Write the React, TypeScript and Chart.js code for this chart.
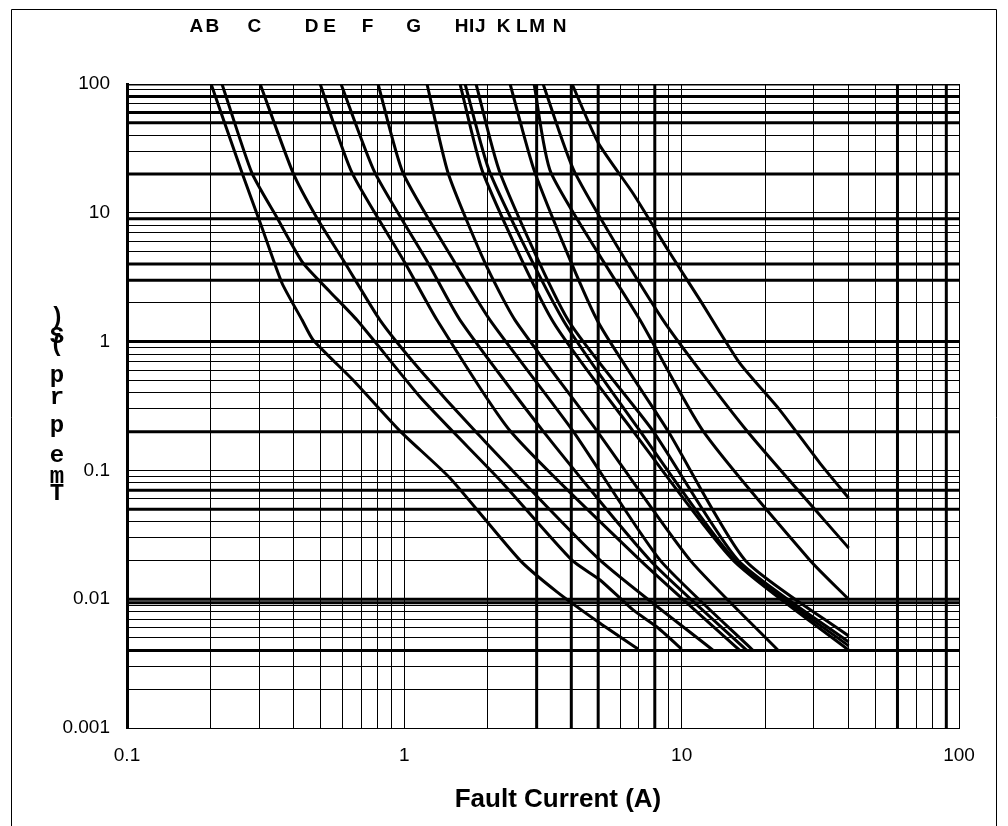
import React, { useEffect, useRef } from 'react';
import { Chart, registerables } from 'chart.js';

Chart.register(...registerables);

// ---- data ----
const curveLabels = ['A', 'B', 'C', 'D', 'E', 'F', 'G', 'H', 'I', 'J', 'K', 'L', 'M', 'N'];
const labelCurrents = [0.178, 0.203, 0.288, 0.463, 0.538, 0.737, 1.08, 1.61, 1.75, 1.88, 2.28, 2.65, 3.01, 3.63];

// [current (A), time (s)]
const curveA = [[0.201, 100], [0.26, 20.4], [0.307, 7.62], [0.362, 2.85], [0.428, 1.47], [0.469, 1.03], [0.653, 0.503], [0.965, 0.202], [1.46, 0.0873], [2.61, 0.0201], [3.55, 0.0114], [5.08, 0.0065], [6.96, 0.0041]];
const curveB = [[0.22, 100], [0.282, 20.4], [0.348, 9.11], [0.431, 4.08], [0.54, 2.43], [0.675, 1.47], [1.14, 0.371], [1.49, 0.202], [2.21, 0.0842], [4.02, 0.0201], [5.08, 0.0141], [6.68, 0.00825], [8.15, 0.00608], [10.0, 0.0041]];
const curveC = [[0.302, 100], [0.397, 20.4], [0.484, 9.11], [0.611, 4.08], [0.817, 1.47], [1.14, 0.602], [1.8, 0.202], [5.08, 0.0201], [13.0, 0.004]];
const curveD = [[0.497, 100], [0.648, 20.4], [1.006, 4.08], [1.312, 1.47], [2.41, 0.202], [7.08, 0.0201], [16.2, 0.004]];
const curveE = [[0.591, 100], [0.784, 20.4], [1.218, 4.08], [1.588, 1.47], [3.164, 0.202], [7.69, 0.0201], [17.2, 0.004]];
const curveF = [[0.804, 100], [0.989, 20.4], [1.523, 4.08], [2.037, 1.47], [4.058, 0.202], [8.36, 0.0201], [18.1, 0.004]];
const curveG = [[1.207, 100], [1.438, 20.4], [1.954, 4.08], [2.507, 1.47], [4.954, 0.202], [10.72, 0.0201], [22.3, 0.004]];
const curveH = [[1.588, 100], [1.922, 20.4], [3.409, 1.47], [6.68, 0.202], [15.32, 0.0201], [40, 0.00403]];
const curveI = [[1.656, 100], [2.037, 20.4], [3.735, 1.47], [7.079, 0.202], [15.58, 0.0201], [40, 0.00434]];
const curveJ = [[1.814, 100], [2.214, 20.4], [3.893, 1.47], [7.886, 0.202], [15.97, 0.0201], [40, 0.00466]];
const curveK = [[2.406, 100], [2.96, 20.4], [4.954, 1.47], [8.93, 0.202], [16.93, 0.0201], [40, 0.00518]];
const curveL = [[2.936, 100], [3.38, 20.4], [7.079, 1.47], [11.95, 0.202], [29.0, 0.0201], [40, 0.01]];
const curveM = [[3.164, 100], [4.126, 20.4], [8.57, 1.47], [17.21, 0.202], [40, 0.025]];
const curveN = [[4.025, 100], [5.0, 35], [6.7, 14], [9.0, 5.0], [11.65, 2.1], [16.2, 0.68], [22.6, 0.294], [31.5, 0.114], [40, 0.061]];

const curves = [curveA, curveB, curveC, curveD, curveE, curveF, curveG, curveH, curveI, curveJ, curveK, curveL, curveM, curveN];

// heavy reference lines
const thickTimes = [100, 80, 60, 50, 20, 9, 4, 3, 1, 0.2, 0.07, 0.05, 0.01, 0.0094, 0.004];
const thickCurrents = [3, 4, 5, 8, 60, 90];

const xTickLabels = ['0.1', '1', '10', '100'];
const yTickLabels = ['0.001', '0.01', '0.1', '1', '10', '100'];
const xTitle = 'Fault Current (A)';
const yTitleGlyphs = [')', 'S', '(', 'p', 'r', 'p', 'e', 'm', 'T'];

const X_MIN = 0.1;
const X_MAX = 100;
const Y_MIN = 0.001;
const Y_MAX = 100;

// ---- layout / style ----
const W = 1008;
const H = 826;
const FONT = '"Liberation Sans", Arial, Helvetica, sans-serif';
const yGlyphCenters = [318, 337, 345, 376, 398, 426, 456, 477, 494];

function decadeTicks(min: number, max: number) {
  const ticks: { value: number; major: boolean }[] = [];
  const e0 = Math.round(Math.log10(min));
  const e1 = Math.round(Math.log10(max));
  for (let e = e0; e < e1; e++) {
    for (let k = 1; k < 10; k++) {
      ticks.push({ value: Number((k * Math.pow(10, e)).toPrecision(6)), major: k === 1 });
    }
  }
  ticks.push({ value: Math.pow(10, e1), major: true });
  return ticks;
}

function decadeLabel(value: number, min: number, labels: string[]) {
  const l = Math.log10(value);
  const r = Math.round(l);
  if (Math.abs(l - r) > 1e-6) return '';
  const idx = r - Math.round(Math.log10(min));
  return labels[idx] ?? '';
}

const decorPlugin = {
  id: 'decor',
  beforeDraw(chart: any) {
    const ctx = chart.ctx;
    ctx.save();
    ctx.fillStyle = '#fff';
    ctx.fillRect(0, 0, chart.width, chart.height);
    ctx.restore();
  },
  afterDraw(chart: any) {
    const ctx = chart.ctx;
    const xs = chart.scales.x;
    const area = chart.chartArea;
    ctx.save();
    // outer frame
    ctx.strokeStyle = '#000';
    ctx.lineWidth = 1;
    ctx.beginPath();
    ctx.moveTo(11.5, H);
    ctx.lineTo(11.5, 9.5);
    ctx.lineTo(996.5, 9.5);
    ctx.lineTo(996.5, H);
    ctx.stroke();

    // curve letters
    ctx.fillStyle = '#000';
    ctx.textAlign = 'center';
    ctx.textBaseline = 'middle';
    ctx.font = 'bold 19px ' + FONT;
    curveLabels.forEach((lab, i) => {
      ctx.fillText(lab, xs.getPixelForValue(labelCurrents[i]), 27);
    });

    // x title
    ctx.font = 'bold 26px ' + FONT;
    ctx.fillText(xTitle, (area.left + area.right) / 2 + 15, 800);

    // y title (stacked glyphs)
    ctx.font = 'bold 24px "Liberation Mono", "Courier New", monospace';
    yTitleGlyphs.forEach((g, i) => {
      ctx.fillText(g, 57, yGlyphCenters[i]);
    });
    ctx.restore();
  },
};

export default function App() {
  const ref = useRef<HTMLCanvasElement>(null);

  useEffect(() => {
    const canvas = ref.current;
    if (!canvas) return;
    const datasets: any[] = [];
    curves.forEach((c, i) => {
      datasets.push({
        label: curveLabels[i],
        data: c.map(([x, y]) => ({ x, y })),
        showLine: true,
        borderColor: '#000',
        borderWidth: 3,
        pointRadius: 0,
        tension: 0.2,
        fill: false,
      });
    });
    thickTimes.forEach((t) => {
      datasets.push({
        label: 'h' + t,
        data: [{ x: X_MIN, y: t }, { x: X_MAX, y: t }],
        showLine: true,
        borderColor: '#000',
        borderWidth: 3,
        pointRadius: 0,
      });
    });
    thickCurrents.forEach((c) => {
      datasets.push({
        label: 'v' + c,
        data: [{ x: c, y: Y_MIN }, { x: c, y: Y_MAX }],
        showLine: true,
        borderColor: '#000',
        borderWidth: 3,
        pointRadius: 0,
      });
    });

    const chart = new Chart(canvas, {
      type: 'scatter',
      data: { datasets },
      options: {
        responsive: false,
        animation: false,
        devicePixelRatio: 1,
        layout: { padding: { top: 84, right: 49, left: 0, bottom: 0 } },
        plugins: {
          legend: { display: false },
          tooltip: { enabled: false },
          title: { display: false },
        },
        scales: {
          x: {
            type: 'logarithmic',
            min: X_MIN,
            max: X_MAX,
            position: 'bottom',
            afterBuildTicks: (s: any) => {
              s.ticks = decadeTicks(X_MIN, X_MAX);
            },
            afterFit: (s: any) => {
              s.height = 98;
            },
            grid: { color: '#000', lineWidth: 1, drawTicks: false },
            border: { display: true, color: '#000', width: 1 },
            ticks: {
              autoSkip: false,
              maxRotation: 0,
              minRotation: 0,
              padding: 16,
              color: '#000',
              font: { family: FONT, size: 19 },
              callback: (v: any) => decadeLabel(Number(v), X_MIN, xTickLabels),
            },
          },
          y: {
            type: 'logarithmic',
            min: Y_MIN,
            max: Y_MAX,
            position: 'left',
            afterBuildTicks: (s: any) => {
              s.ticks = decadeTicks(Y_MIN, Y_MAX);
            },
            afterFit: (s: any) => {
              s.width = 127;
            },
            grid: { color: '#000', lineWidth: 1, drawTicks: false },
            border: { display: true, color: '#000', width: 3 },
            ticks: {
              autoSkip: false,
              padding: 17,
              color: '#000',
              font: { family: FONT, size: 19 },
              callback: (v: any) => decadeLabel(Number(v), Y_MIN, yTickLabels),
            },
          },
        },
      } as any,
      plugins: [decorPlugin],
    });
    return () => chart.destroy();
  }, []);

  return (
    <div style={{ position: 'absolute', left: 0, top: 0, width: W, height: H, background: '#fff' }}>
      <canvas ref={ref} width={W} height={H} style={{ display: 'block', width: W, height: H }} />
    </div>
  );
}
